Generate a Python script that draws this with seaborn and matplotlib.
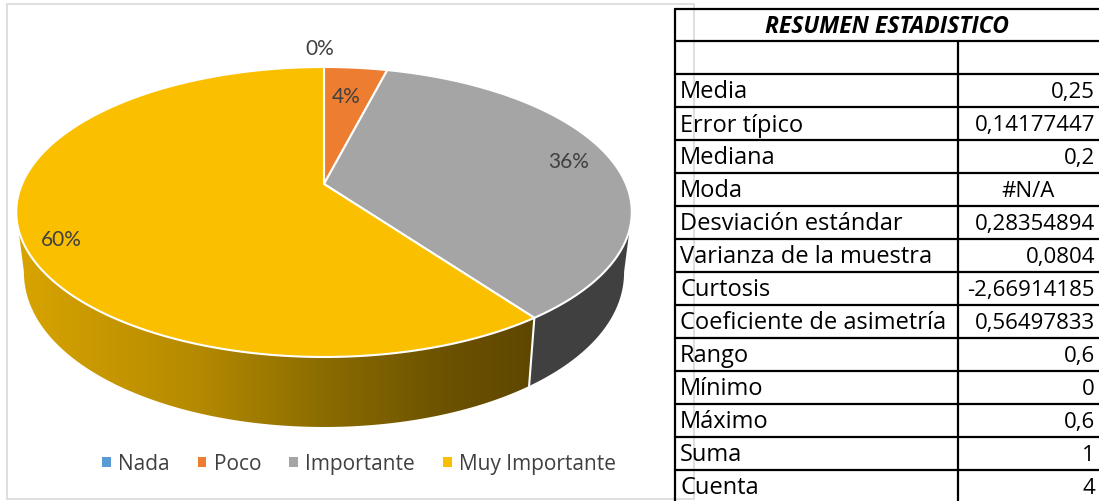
import numpy as np
import matplotlib
matplotlib.use("Agg")
import matplotlib.pyplot as plt
import seaborn as sns
from matplotlib.patches import Polygon, Rectangle, Patch
from matplotlib.colors import LinearSegmentedColormap

# Datos
categorias = ["Nada", "Poco", "Importante", "Muy Importante"]
proporciones = [0.00, 0.04, 0.36, 0.60]
etiquetas_pct = ["0%", "4%", "36%", "60%"]

titulo_tabla = "RESUMEN ESTADISTICO"
estadisticos = ["", "Media", "Error típico", "Mediana", "Moda", "Desviación estándar",
                "Varianza de la muestra", "Curtosis", "Coeficiente de asimetría",
                "Rango", "Mínimo", "Máximo", "Suma", "Cuenta"]
valores = ["", "0,25", "0,14177447", "0,2", "#N/A", "0,28354894", "0,0804",
           "-2,66914185", "0,56497833", "0,6", "0", "0,6", "1", "4"]

# Estilo
sns.set_theme(style="white")
plt.rcParams["font.family"] = ["Lato", "DejaVu Sans"]
fuente_tabla = ["Open Sans", "DejaVu Sans"]
colores = sns.color_palette(["#5B9BD5", "#ED7D31", "#A5A5A5", "#FAC000"])
color_lado = {2: "#404040"}
cmap_lado = LinearSegmentedColormap.from_list(
    "lado", [(0, "#D9A400"), (0.35, "#B48A00"), (0.6, "#8A6B00"),
             (0.85, "#6A5000"), (1, "#5E4700")])
color_texto = "#404040"

# Geometria del pastel en perspectiva (pixeles)
CX, CY = 324, 185
A, B, K = 302, 139.6, 0.193


def borde(theta, r=1.0):
    t = np.radians(theta)
    u, v = r * np.sin(t), r * np.cos(t)
    w = 1 + K * v
    return CX + A * u / w, CY - B * v / w


def fondo(theta):
    x, y = borde(theta)
    prof = 52 + 18 * np.sqrt(np.clip(-np.cos(np.radians(theta)), 0, None))
    return CX + (x - CX) * 0.975, y + prof


def lado(t0, t1):
    ts = np.linspace(t0, t1, 120)
    sup = np.array([borde(t) for t in ts])
    inf = np.array([fondo(t) for t in ts[::-1]])
    return np.vstack([sup, inf])


fig = plt.figure(figsize=(10.99, 5.02), dpi=100)
ax = fig.add_axes([0, 0, 1, 1])
ax.set_xlim(0, 1099)
ax.set_ylim(502, 0)
ax.axis("off")

# marco del grafico
ax.add_patch(Rectangle((7, 5), 687, 495, fill=False, edgecolor="#D9D9D9", lw=1.2))

limites = np.concatenate([[0], np.cumsum(proporciones) * 360])
t_der = np.degrees(np.arccos(-K))
t_izq = 360 - t_der

# caras laterales visibles
for i in range(len(categorias)):
    a0, a1 = max(limites[i], t_der), min(limites[i + 1], t_izq)
    if a1 <= a0:
        continue
    pts = lado(a0, a1)
    if i in color_lado:
        ax.add_patch(Polygon(pts, closed=True, facecolor=color_lado[i], edgecolor="none"))
    else:
        clip = Polygon(pts, closed=True, facecolor="none", edgecolor="none")
        ax.add_patch(clip)
        grad = np.linspace(0, 1, 256).reshape(1, -1)
        x0, x1 = pts[:, 0].min(), pts[:, 0].max()
        y0, y1 = pts[:, 1].min(), pts[:, 1].max()
        im = ax.imshow(grad, extent=(x0, x1, y1, y0), cmap=cmap_lado, aspect="auto")
        im.set_clip_path(clip)
    # separacion blanca en la cara lateral
    if t_der < limites[i] < t_izq:
        xs, ys = zip(borde(limites[i]), fondo(limites[i]))
        ax.plot(xs, ys, color="white", lw=1.5)

# caras superiores
for i in range(len(categorias)):
    if proporciones[i] <= 0:
        continue
    ts = np.linspace(limites[i], limites[i + 1], 200)
    pts = np.vstack([[CX, CY], [borde(t) for t in ts]])
    ax.add_patch(Polygon(pts, closed=True, facecolor=colores[i], edgecolor="white",
                         lw=1.5, joinstyle="round"))

# etiquetas de porcentaje
radios = [1.2, 0.75, 0.82, 0.86]
ajustes = [(-4, 0), (-3, 3), (8, -2), (-2, 16)]
for i, txt in enumerate(etiquetas_pct):
    medio = (limites[i] + limites[i + 1]) / 2
    x, y = borde(medio, radios[i])
    ax.text(x + ajustes[i][0], y + ajustes[i][1], txt, ha="center", va="center",
            fontsize=15, color=color_texto)

# leyenda
manejadores = [Patch(facecolor=c, edgecolor="none") for c in colores]
ax.legend(manejadores, categorias, ncol=4, loc="center", bbox_to_anchor=(359, 465),
          bbox_transform=ax.transData, frameon=False,
          prop={"family": fuente_tabla, "size": 15},
          handlelength=0.42, handleheight=0.42, handletextpad=0.35, columnspacing=1.35,
          labelcolor=color_texto)

# tabla resumen
TX0, TX1, TXD = 675, 1099, 958
FILA0, ALTO = 42, 33
ax.text((TX0 + TX1) / 2, 27, titulo_tabla, ha="center", va="center", fontsize=16.5,
        fontweight="bold", fontstyle="italic", color="black", family=fuente_tabla)
ax.plot([TX0, TX1], [10, 10], color="black", lw=1.6)
ax.plot([TX0, TX0], [10, 502], color="black", lw=1.6)
ax.plot([TXD, TXD], [FILA0, 502], color="black", lw=1.6)
for j, (nombre, valor) in enumerate(zip(estadisticos, valores)):
    ytop = FILA0 + j * ALTO
    ax.plot([TX0, TX1], [ytop, ytop], color="black", lw=1.6)
    yc = ytop + ALTO / 2 + 1
    ax.text(TX0 + 5, yc, nombre, ha="left", va="center", fontsize=17, color="black",
            family=fuente_tabla)
    if valor.startswith("#"):
        ax.text((TXD + TX1) / 2, yc, valor, ha="center", va="center", fontsize=16,
                color="black", family=fuente_tabla)
    else:
        ax.text(TX1 - 4, yc, valor, ha="right", va="center", fontsize=16, color="black",
                family=fuente_tabla)

fig.savefig("out.png", dpi=100)
